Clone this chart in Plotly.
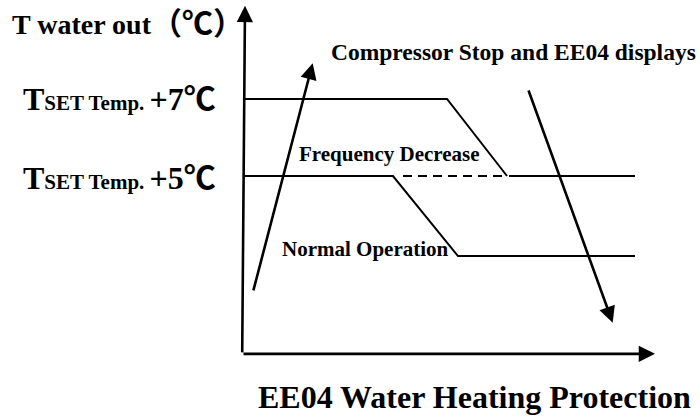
import plotly.graph_objects as go

# Temperature levels, in °C above the water set temperature
LEVEL_STOP = 7
LEVEL_FREQ = 5
LEVEL_NORMAL = 2.92
LEVEL_BASE = 0.38          # where the time axis crosses the temperature axis

# Protection thresholds over time (arbitrary time units)
upper_t = [0.2, 20.5, 26.5]
upper_v = [LEVEL_STOP, LEVEL_STOP, LEVEL_FREQ]
upper_tail_t = [26.7, 39.3]
upper_tail_v = [LEVEL_FREQ, LEVEL_FREQ]

lower_t = [0.2, 15.1, 21.6, 39.3]
lower_v = [LEVEL_FREQ, LEVEL_FREQ, LEVEL_NORMAL, LEVEL_NORMAL]

hold_t = [16.1, 26.3]
hold_v = [LEVEL_FREQ, LEVEL_FREQ]

# Water temperature rising, then falling after the stop
rise_t = [1.1, 7.07]
rise_v = [1.99, 7.93]
fall_t = [28.6, 37.07]
fall_v = [7.26, 1.19]

# Axis arrows: (tail, tip)
x_axis_t = [0.0, 41.3]
x_axis_v = [LEVEL_BASE, LEVEL_BASE]
y_axis_t = [0.02, 0.3]
y_axis_v = [LEVEL_BASE, 9.42]

set_labels = ["+7℃", "+5℃"]
set_levels = [LEVEL_STOP, LEVEL_FREQ - 0.05]

FONT = "Liberation Serif, 'Noto Sans CJK SC', serif"
BLACK = "#000000"

fig = go.Figure()


def add_line(ts, vs, width=2.0, dash="solid"):
    fig.add_trace(go.Scatter(
        x=ts, y=vs, mode="lines",
        line=dict(color=BLACK, width=width, dash=dash),
        hoverinfo="skip", showlegend=False,
    ))


add_line(upper_t, upper_v)
add_line(upper_tail_t, upper_tail_v)
add_line(lower_t, lower_v)
add_line(hold_t, hold_v, dash="9px,6px")


def add_arrow(ts, vs, width=2.6, size=1.25):
    fig.add_annotation(
        x=ts[1], y=vs[1], ax=ts[0], ay=vs[0],
        xref="x", yref="y", axref="x", ayref="y",
        showarrow=True, arrowhead=2, arrowsize=size,
        arrowwidth=width, arrowcolor=BLACK, text="",
    )


add_arrow(x_axis_t, x_axis_v)
add_arrow(y_axis_t, y_axis_v)
add_arrow(rise_t, rise_v)
add_arrow(fall_t, fall_v)


def add_text(text, x, y, size, xanchor="left"):
    fig.add_annotation(
        x=x, y=y, xref="x", yref="y", text=text, showarrow=False,
        xanchor=xanchor, yanchor="middle",
        font=dict(family=FONT, size=size, color=BLACK, weight="bold"),
    )


for lab, lev in zip(set_labels, set_levels):
    add_text("T<span style=\"font-size:21px\">SET Temp. </span>" + lab,
             -2.4, lev, 32, xanchor="right")

add_text("T water out<span style=\"font-size:31px\">（℃）</span>", -23.2, 8.97, 28)
add_text("Compressor Stop and EE04 displays", 8.7, 8.21, 23.5)
add_text("Frequency Decrease", 5.5, 5.58, 21)
add_text("Normal Operation", 3.8, 3.10, 21)
add_text("EE04 Water Heating Protection", 23.2, -0.74, 32, xanchor="center")

fig.update_layout(
    width=700, height=418,
    margin=dict(l=0, r=0, t=0, b=0),
    paper_bgcolor="white", plot_bgcolor="white",
    xaxis=dict(range=[-24.2, 45.8], visible=False, fixedrange=True),
    yaxis=dict(range=[-1.2857, 9.5714], visible=False, fixedrange=True),
)

fig.write_html("out.html")
